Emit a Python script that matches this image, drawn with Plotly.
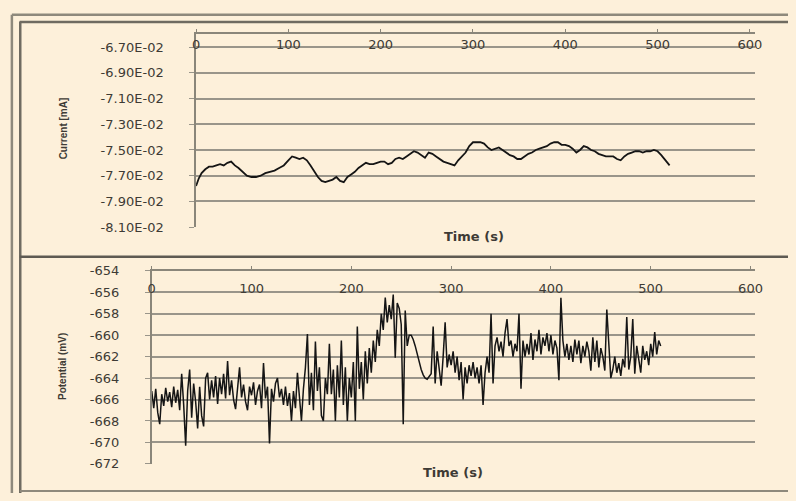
import plotly.graph_objects as go

W, H = 796, 501

# ---------------- data ----------------
current_time = [0, 3, 6, 10, 14, 18, 22, 26, 30, 34, 38, 42, 46, 50, 55, 60, 65, 70, 75, 80,
                85, 90, 95, 100, 104, 108, 112, 116, 120, 124, 128, 132, 136, 140, 144, 148,
                152, 156, 160, 164, 168, 172, 176, 180, 184, 188, 192, 196, 200, 204, 208,
                212, 216, 220, 224, 228, 232, 236, 240, 244, 248, 252, 256, 260, 264, 268,
                272, 276, 280, 284, 288, 292, 296, 300, 304, 308, 312, 316, 320, 324, 328,
                332, 336, 340, 344, 348, 352, 356, 360, 364, 368, 372, 376, 380, 384, 388,
                392, 396, 400, 404, 408, 412, 416, 420, 424, 428, 432, 436, 440, 444, 448,
                452, 456, 460, 464, 468, 472, 476, 480, 484, 488, 492, 496, 500, 504, 508, 513]
current_ma = [-0.0778, -0.0772, -0.0768, -0.0765, -0.0763, -0.0763, -0.0762, -0.0761, -0.0762,
              -0.0760, -0.0759, -0.0762, -0.0764, -0.0767, -0.0770, -0.0771, -0.0771, -0.0770,
              -0.0768, -0.0767, -0.0766, -0.0764, -0.0762, -0.0758, -0.0755, -0.0756, -0.0757,
              -0.0756, -0.0758, -0.0762, -0.0767, -0.0771, -0.0774, -0.0775, -0.0774, -0.0773,
              -0.0771, -0.0774, -0.0775, -0.0771, -0.0769, -0.0767, -0.0764, -0.0762, -0.0760,
              -0.0761, -0.0761, -0.0760, -0.0759, -0.0759, -0.0761, -0.0760, -0.0757, -0.0756,
              -0.0757, -0.0755, -0.0753, -0.0751, -0.0752, -0.0754, -0.0756, -0.0752, -0.0753,
              -0.0755, -0.0757, -0.0759, -0.0760, -0.0761, -0.0762, -0.0758, -0.0755, -0.0752,
              -0.0747, -0.0744, -0.0744, -0.0744, -0.0745, -0.0748, -0.0750, -0.0749, -0.0748,
              -0.0750, -0.0752, -0.0754, -0.0755, -0.0757, -0.0757, -0.0755, -0.0753, -0.0752,
              -0.0750, -0.0749, -0.0748, -0.0747, -0.0745, -0.0744, -0.0744, -0.0746, -0.0746,
              -0.0747, -0.0749, -0.0752, -0.0750, -0.0747, -0.0748, -0.0750, -0.0751, -0.0753,
              -0.0754, -0.0755, -0.0755, -0.0755, -0.0757, -0.0758, -0.0755, -0.0753, -0.0752,
              -0.0751, -0.0751, -0.0752, -0.0751, -0.0751, -0.0750, -0.0751, -0.0754, -0.0758,
              -0.0762]

potential_time = list(range(0, 511, 2))
potential_mv = [
    -665.2, -666.8, -665.0, -667.2, -668.3, -665.5, -666.6, -664.9, -666.2, -665.3,
    -666.7, -664.8, -666.3, -665.1, -667.0, -663.6, -666.5, -670.3, -665.2, -663.2,
    -667.7, -664.5, -666.2, -668.7, -664.8, -667.5, -668.5, -664.0, -663.5, -666.0,
    -664.2, -665.8, -663.8, -666.4, -664.0, -665.5, -663.6, -665.9, -662.4, -665.6,
    -664.2, -666.0, -666.9, -664.5, -663.0, -665.8, -664.6, -666.2, -667.0, -664.8,
    -665.6, -664.4, -666.5, -665.2, -664.6, -666.8, -662.6, -665.9, -664.8, -670.1,
    -665.0, -666.2, -664.5, -664.0, -665.8, -665.0, -666.5, -664.8, -666.6, -665.4,
    -668.0, -665.2, -666.8, -663.5, -665.8, -668.0, -665.0, -663.0, -659.9, -666.5,
    -663.5, -667.0, -660.6, -665.2, -663.0, -667.5, -668.0, -664.0, -665.5, -660.8,
    -665.5, -663.2, -668.0, -662.8, -665.8, -660.5, -666.5, -663.0, -668.0, -664.0,
    -665.8, -662.5, -668.0, -659.2, -665.0, -662.5, -666.0, -661.5, -664.5, -661.2,
    -663.5, -660.5, -662.5, -659.5, -661.0, -658.0, -659.5, -656.5, -658.8, -657.2,
    -658.5, -656.2, -662.1, -657.0, -657.5, -659.0, -668.3, -657.7, -661.0, -660.0,
    -660.0, -660.4, -661.0, -661.8, -662.6, -663.2, -663.7, -664.0, -664.1, -663.9,
    -663.6, -659.2, -664.5, -661.5, -663.0, -664.7, -662.0, -658.8, -663.0, -661.8,
    -662.8, -661.5, -663.5, -662.0, -664.2, -662.5, -666.0, -663.0, -664.5, -662.8,
    -663.8, -662.5, -664.0, -663.0, -664.5, -662.8, -666.5, -663.5, -662.0, -663.5,
    -658.0, -664.5, -661.0, -660.2, -661.5, -660.6, -662.0, -659.8, -658.5, -661.0,
    -660.5, -662.0, -660.8, -661.5, -658.0, -665.0, -660.5, -662.0, -660.8, -661.8,
    -659.8, -662.3, -660.4, -661.5, -659.5, -661.8, -660.2, -661.0, -659.8, -661.5,
    -660.0, -661.8, -660.5, -661.2, -664.2, -656.5, -660.5, -662.0, -660.8, -662.3,
    -661.0, -662.5, -660.4, -661.8, -660.5, -662.6, -661.0, -662.0, -660.6, -661.5,
    -663.3, -660.2, -662.5, -660.5, -663.0, -661.2, -662.0, -663.3, -657.6, -661.5,
    -664.0, -663.2, -662.0, -663.5, -662.6, -663.8, -662.2, -663.0, -658.3, -663.2,
    -662.0, -658.5, -663.6, -661.0, -662.5, -663.5, -661.0, -662.3, -661.5, -662.8,
    -660.8, -662.0, -659.7, -661.8, -660.5, -661.0,
]

time_ticks = [0, 100, 200, 300, 400, 500, 600]
time_labels = ["0", "100", "200", "300", "400", "500", "600"]
current_ticks = [-0.067, -0.069, -0.071, -0.073, -0.075, -0.077, -0.079, -0.081]
current_labels = ["-6.70E-02", "-6.90E-02", "-7.10E-02", "-7.30E-02",
                  "-7.50E-02", "-7.70E-02", "-7.90E-02", "-8.10E-02"]
potential_ticks = [-654, -656, -658, -660, -662, -664, -666, -668, -670, -672]
potential_labels = ["-654", "-656", "-658", "-660", "-662", "-664",
                    "-666", "-668", "-670", "-672"]

# ---------------- styling helpers ----------------
BG = "#fdf0da"
GRID = "#99958a"
AXIS = "#8a867a"
TXT = "#3e3b35"
FONT = "DejaVu Sans"


def px_x(p):
    return p / W


def px_y(p):
    return 1 - p / H


fig = go.Figure()

fig.add_trace(go.Scatter(x=current_time, y=current_ma, mode="lines",
                         line=dict(color="#151515", width=1.8),
                         xaxis="x", yaxis="y", showlegend=False))
fig.add_trace(go.Scatter(x=potential_time, y=potential_mv, mode="lines",
                         line=dict(color="#151515", width=1.5),
                         xaxis="x2", yaxis="y2", showlegend=False))
# empty traces for label axes
fig.add_trace(go.Scatter(x=[], y=[], xaxis="x3", yaxis="y", showlegend=False))
fig.add_trace(go.Scatter(x=[], y=[], xaxis="x4", yaxis="y2", showlegend=False))

top_dom_x = [px_x(195), px_x(762)]
top_dom_y = [px_y(227), px_y(28)]
bot_dom_x = [px_x(150), px_x(762)]
bot_dom_y = [px_y(471), px_y(272)]

tickfont_y = dict(family=FONT, size=13, color=TXT)
tickfont_x = dict(family=FONT, size=13, color=TXT)

common_x_main = dict(side="top", showline=True, linecolor=AXIS, linewidth=1.5,
                     ticks="outside", ticklen=3, tickcolor=AXIS,
                     tickvals=time_ticks, showticklabels=False, showgrid=False,
                     zeroline=False, fixedrange=True)
common_x_lab = dict(showline=False, ticks="", tickvals=time_ticks, ticktext=time_labels,
                    showgrid=False, zeroline=False, tickfont=tickfont_x, side="bottom",
                    anchor="free")

fig.update_layout(
    width=W, height=H, margin=dict(l=0, r=0, t=0, b=0),
    paper_bgcolor=BG, plot_bgcolor=BG,
    xaxis=dict(domain=top_dom_x, range=[0, 605], anchor="y", **common_x_main),
    yaxis=dict(domain=top_dom_y, range=[-0.081, -0.066], anchor="x",
               tickvals=current_ticks, ticktext=current_labels, tickfont=tickfont_y,
               showline=True, linecolor=AXIS, linewidth=1.5, ticks="outside", ticklen=5,
               tickcolor=GRID, showgrid=True, gridcolor=GRID, gridwidth=1.5,
               zeroline=False, ticklabelstandoff=23),
    xaxis3=dict(domain=top_dom_x, range=[0, 605], overlaying="x",
                position=px_y(29), **common_x_lab),
    xaxis2=dict(domain=bot_dom_x, range=[0, 604], anchor="y2", **common_x_main),
    yaxis2=dict(domain=bot_dom_y, range=[-672, -654], anchor="x2",
                tickvals=potential_ticks, ticktext=potential_labels, tickfont=tickfont_y,
                showline=True, linecolor=AXIS, linewidth=1.5, ticks="outside", ticklen=5,
                tickcolor=GRID, showgrid=True, gridcolor=GRID, gridwidth=1.5,
                zeroline=False, ticklabelstandoff=23),
    xaxis4=dict(domain=bot_dom_x, range=[0, 604], overlaying="x2",
                position=px_y(280), **common_x_lab),
)

# axis titles
ann_common = dict(xref="paper", yref="paper", showarrow=False,
                  xanchor="center", yanchor="middle")
fig.add_annotation(text="<b>Current [mA]</b>", x=px_x(60), y=px_y(125), textangle=-90,
                   font=dict(family="Liberation Sans", size=10, color=TXT), **ann_common)
fig.add_annotation(text="<b>Potential (mV)</b>", x=px_x(60), y=px_y(371), textangle=-90,
                   font=dict(family="Liberation Sans", size=10, color=TXT), **ann_common)
fig.add_annotation(text="<b>Time (s)</b>", x=px_x(477), y=px_y(237),
                   font=dict(family=FONT, size=13, color=TXT), **ann_common)
fig.add_annotation(text="<b>Time (s)</b>", x=px_x(456), y=px_y(480),
                   font=dict(family=FONT, size=13, color=TXT), **ann_common)

# frame lines
def hline(y, x0, x1, color, width):
    fig.add_shape(type="line", xref="paper", yref="paper", x0=px_x(x0), x1=px_x(x1),
                  y0=px_y(y), y1=px_y(y), line=dict(color=color, width=width))


def vline(x, y0, y1, color, width):
    fig.add_shape(type="line", xref="paper", yref="paper", x0=px_x(x), x1=px_x(x),
                  y0=px_y(y0), y1=px_y(y1), line=dict(color=color, width=width))


hline(8, 8, 796, "#8e897c", 2.5)
vline(8, 8, 501, "#8e897c", 2.5)
hline(15.5, 16, 796, "#6f6b61", 2.5)
vline(16.5, 15, 501, "#6f6b61", 2.5)
hline(257.5, 16, 796, "#5e5a52", 2.5)
hline(499, 16, 796, "#8e897c", 2)

fig.write_html("out.html")
